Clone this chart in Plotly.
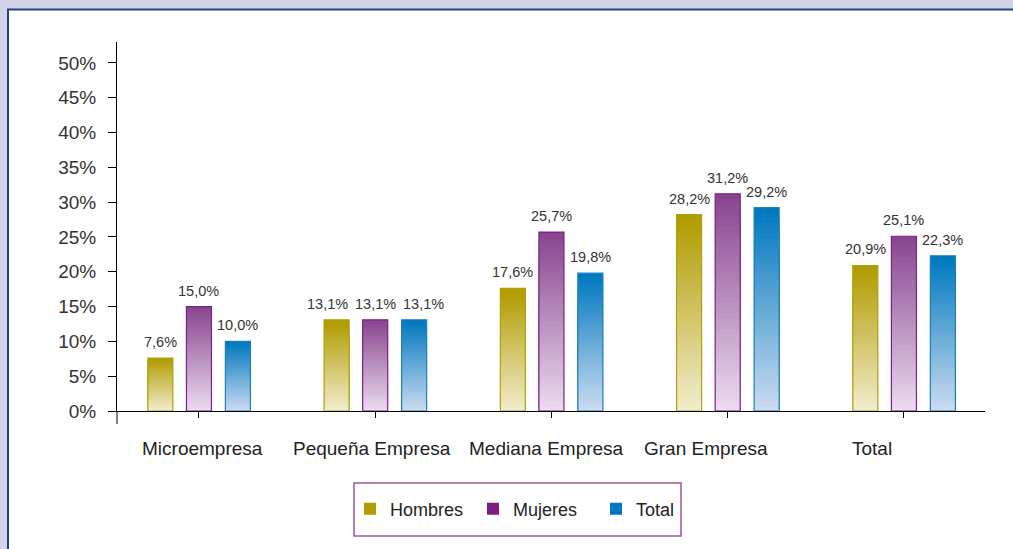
import plotly.graph_objects as go

categorias = ['Microempresa', 'Pequeña Empresa', 'Mediana Empresa', 'Gran Empresa', 'Total']
hombres = [7.6, 13.1, 17.6, 28.2, 20.9]
mujeres = [15.0, 13.1, 25.7, 31.2, 25.1]
total = [10.0, 13.1, 19.8, 29.2, 22.3]
series_nombres = ['Hombres', 'Mujeres', 'Total']
y_ticks = [0, 5, 10, 15, 20, 25, 30, 35, 40, 45, 50]

# estilos: (color superior, color inferior, borde, leyenda)
estilos = {
    'Hombres': ('#b09b00', '#f3eed0', '#b3a010', '#b29c00'),
    'Mujeres': ('#8a4590', '#ecdff0', '#7d2285', '#7d1f80'),
    'Total': ('#0078be', '#cfddf1', '#1a7fc0', '#0077be'),
}

N_SEG = 40
ANCHO = 0.142
CENTROS = [-0.219, 0.0, 0.221]
# category labels in the original are not exactly centred on their ticks
DESPLAZ_ETIQUETA = [0.02, -0.02, -0.026, -0.125, -0.18]
# value labels spread apart where they would collide (px)
EMPUJE_TEXTO = {(1, 0): -9, (1, 2): 9}


def mezcla(c1, c2, t):
    a = [int(c1[i:i + 2], 16) for i in (1, 3, 5)]
    b = [int(c2[i:i + 2], 16) for i in (1, 3, 5)]
    return 'rgb(%d,%d,%d)' % tuple(round(a[j] + (b[j] - a[j]) * t) for j in range(3))


fig = go.Figure()
annotations = []

for s, (nombre, valores) in enumerate(zip(series_nombres, [hombres, mujeres, total])):
    top, bottom, borde, leyenda = estilos[nombre]
    offset = CENTROS[s] - ANCHO / 2
    # gradient: overlapping bars from 0, tallest (darkest) first, shorter/lighter on top
    for k in range(N_SEG):
        frac = (N_SEG - k) / N_SEG
        fig.add_trace(go.Bar(
            x=categorias,
            y=[v * frac for v in valores],
            width=ANCHO,
            offset=offset,
            marker=dict(color=mezcla(bottom, top, frac), line=dict(width=0)),
            showlegend=False,
            hoverinfo='skip',
        ))
    # outline
    fig.add_trace(go.Bar(
        x=categorias,
        y=valores,
        width=ANCHO,
        offset=offset,
        marker=dict(color='rgba(0,0,0,0)', line=dict(color=borde, width=1.2)),
        showlegend=False,
        name=nombre,
    ))
    # legend entry
    fig.add_trace(go.Bar(
        x=categorias,
        y=[None] * len(categorias),
        name=nombre,
        marker=dict(color=leyenda, line=dict(width=0)),
    ))
    for i, v in enumerate(valores):
        annotations.append(dict(
            x=i + CENTROS[s], y=v, xref='x', yref='y',
            text=f'{v:.1f}%'.replace('.', ','),
            showarrow=False, yshift=16, xshift=EMPUJE_TEXTO.get((i, s), 0),
            font=dict(size=14.5, color='#333333'),
        ))

for i, cat in enumerate(categorias):
    annotations.append(dict(
        x=i + DESPLAZ_ETIQUETA[i], y=(411 - 448) / 369, xref='x', yref='paper',
        text=cat, showarrow=False, yanchor='middle',
        font=dict(size=19, color='#222222'),
    ))

shapes = [
    # white panel with dark blue frame
    dict(type='rect', xref='paper', yref='paper',
         x0=(8 - 117) / 868, x1=1.2, y0=-1.0, y1=(411 - 9.5) / 369,
         fillcolor='white', line=dict(color='#23408a', width=2), layer='below'),
    # y axis extension below the baseline
    dict(type='line', xref='paper', yref='paper',
         x0=0, x1=0, y0=-13 / 369, y1=0, line=dict(color='#000000', width=1)),
    # legend box
    dict(type='rect', xref='paper', yref='paper',
         x0=(354 - 117) / 868, x1=(681 - 117) / 868,
         y0=(411 - 536) / 369, y1=(411 - 483) / 369,
         fillcolor='white', line=dict(color='#9b55a3', width=1.5), layer='below'),
]

fig.update_layout(
    width=1013,
    height=549,
    margin=dict(l=117, r=28, t=42, b=138),
    barmode='overlay',
    paper_bgcolor='#d4d3e5',
    plot_bgcolor='rgba(0,0,0,0)',
    font=dict(family='Liberation Sans, Arial, sans-serif', color='#333333'),
    shapes=shapes,
    annotations=annotations,
    showlegend=True,
    legend=dict(
        orientation='h',
        x=(350 - 117) / 868, xanchor='left',
        y=(411 - 509) / 369, yanchor='middle',
        bgcolor='rgba(0,0,0,0)',
        font=dict(size=18, color='#222222'),
        entrywidth=78,
        itemwidth=30,
        itemsizing='constant',
    ),
    xaxis=dict(
        range=[-0.465, 4.46],
        showline=True, linecolor='#000000', linewidth=1,
        ticks='outside', ticklen=6, tickcolor='#000000',
        showticklabels=False,
        showgrid=False, zeroline=False,
    ),
    yaxis=dict(
        range=[0, 53],
        tickvals=y_ticks,
        ticktext=[f'{t}%' for t in y_ticks],
        showline=True, linecolor='#000000', linewidth=1,
        ticks='outside', ticklen=8, tickcolor='#000000',
        tickfont=dict(size=19, color='#333333'),
        ticklabelstandoff=8,
        showgrid=False, zeroline=False,
    ),
)

fig.write_html('out.html', config={'displayModeBar': False},
               post_script="document.body.style.margin='0';")
